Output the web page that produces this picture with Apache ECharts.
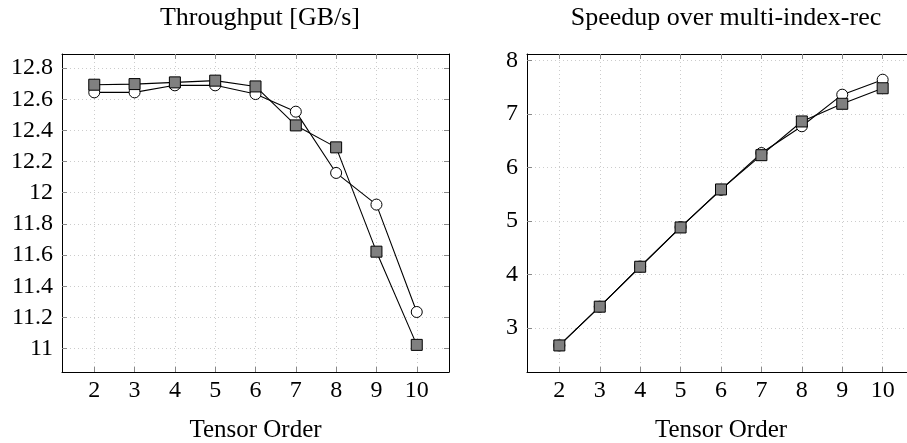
<!DOCTYPE html>
<html>
<head>
<meta charset="utf-8">
<script src="https://cdn.jsdelivr.net/npm/echarts@6/dist/echarts.min.js"></script>
<style>
  html, body { margin: 0; padding: 0; background: #fff; }
  #chart { width: 907px; height: 443px; }
</style>
</head>
<body>
<div id="chart"></div>
<script>
// tensor order on x
const orders = [2, 3, 4, 5, 6, 7, 8, 9, 10];
// throughput [GB/s]
const tpCircle = [12.644, 12.644, 12.689, 12.689, 12.633, 12.52, 12.127, 11.924, 11.235];
const tpSquare = [12.693, 12.697, 12.708, 12.719, 12.682, 12.432, 12.291, 11.622, 11.024];
// speedup over multi-index-rec
const spCircle = [2.676, 3.40, 4.15, 4.886, 5.584, 6.27, 6.77, 7.36, 7.64];
const spSquare = [2.676, 3.40, 4.146, 4.88, 5.59, 6.23, 6.86, 7.19, 7.48];
// tick labels
const xTicks = [2, 3, 4, 5, 6, 7, 8, 9, 10];
const tpTicks = [11, 11.2, 11.4, 11.6, 11.8, 12, 12.2, 12.4, 12.6, 12.8];
const spTicks = [3, 4, 5, 6, 7, 8];

const font = 'Liberation Serif';
const fs = 24;

function pairs(ys) {
  return orders.map((x, i) => [x, ys[i]]);
}

function xAxes(gridIndex) {
  const base = {
    type: 'value', gridIndex: gridIndex, min: 1.2, max: 10.8,
    axisLine: { show: true, lineStyle: { color: '#000', width: 1 } },
    axisTick: { inside: true, length: 5, customValues: xTicks, lineStyle: { color: '#888' } }
  };
  return [
    Object.assign({}, base, {
      position: 'bottom',
      name: 'Tensor Order', nameLocation: 'middle', nameGap: 46,
      nameTextStyle: { fontFamily: font, fontSize: 25, color: '#000' },
      axisLabel: { customValues: xTicks, margin: 7, fontFamily: font, fontSize: fs, color: '#000' },
      splitLine: { show: true, lineStyle: { color: '#ccc', type: [1, 3] } }
    }),
    Object.assign({}, base, {
      position: 'top',
      axisLabel: { show: false },
      splitLine: { show: false }
    })
  ];
}

function yAxes(gridIndex, min, max, ticks) {
  const base = {
    type: 'value', gridIndex: gridIndex, min: min, max: max,
    axisLine: { show: true, lineStyle: { color: '#000', width: 1 } },
    axisTick: { show: true, inside: true, length: 5, customValues: ticks, lineStyle: { color: '#888' } }
  };
  return [
    Object.assign({}, base, {
      position: 'left',
      axisLabel: { customValues: ticks, margin: 9, fontFamily: font, fontSize: fs, color: '#000' },
      splitLine: { show: true, lineStyle: { color: '#ccc', type: [1, 3] } }
    }),
    Object.assign({}, base, {
      position: 'right',
      axisLabel: { show: false },
      splitLine: { show: false }
    })
  ];
}

function lineSeries(xi, yi, data, symbol) {
  return {
    type: 'line', xAxisIndex: xi, yAxisIndex: yi, data: data,
    symbol: symbol, symbolSize: 11, showAllSymbol: true,
    lineStyle: { color: '#000', width: 1.1 },
    itemStyle: symbol === 'circle'
      ? { color: '#fff', borderColor: '#000', borderWidth: 1 }
      : { color: '#808080', borderColor: '#000', borderWidth: 1 },
    emphasis: { disabled: true },
    animation: false
  };
}

const chart = echarts.init(document.getElementById('chart'));
const option = {
  backgroundColor: '#fff',
  animation: false,
  title: [
    { text: 'Throughput [GB/s]', left: 255, top: 0, textAlign: 'center',
      textStyle: { fontFamily: font, fontSize: 26, fontWeight: 'normal', color: '#000' } },
    { text: 'Speedup over multi-index-rec', left: 721, top: 0, textAlign: 'center',
      textStyle: { fontFamily: font, fontSize: 26, fontWeight: 'normal', color: '#000' } }
  ],
  grid: [
    { left: 62, top: 54, width: 387, height: 318, outerBoundsMode: 'none', containLabel: false },
    { left: 527, top: 54, width: 388, height: 318, outerBoundsMode: 'none', containLabel: false }
  ],
  xAxis: xAxes(0).concat(xAxes(1)),
  yAxis: yAxes(0, 10.85, 12.89, tpTicks).concat(yAxes(1, 2.18, 8.12, spTicks)),
  series: [
    lineSeries(0, 0, pairs(tpCircle), 'circle'),
    lineSeries(0, 0, pairs(tpSquare), 'rect'),
    lineSeries(2, 2, pairs(spCircle), 'circle'),
    lineSeries(2, 2, pairs(spSquare), 'rect')
  ]
};
chart.setOption(option);
</script>
</body>
</html>
